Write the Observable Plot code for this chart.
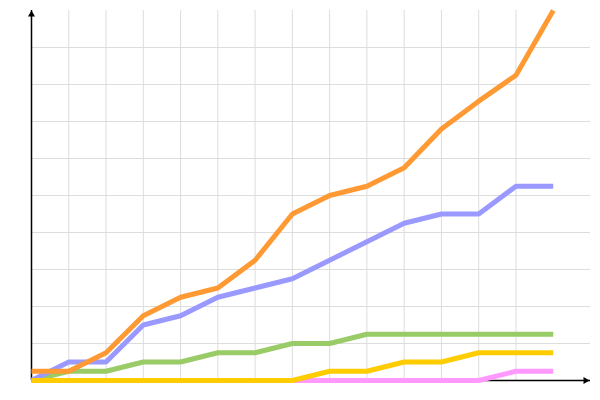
<!DOCTYPE html>
<html>
<head>
<meta charset="utf-8">
<script src="https://cdn.jsdelivr.net/npm/d3@7"></script>
<script src="https://cdn.jsdelivr.net/npm/@observablehq/plot@0.6"></script>
<style>
  html, body { margin: 0; padding: 0; background: #fff; }
  #chart svg { display: block; }
</style>
</head>
<body>
<div id="chart"></div>
<script>
const steps = [0, 1, 2, 3, 4, 5, 6, 7, 8, 9, 10, 11, 12, 13, 14];
const orangeValues = [0.25, 0.25, 0.75, 1.75, 2.25, 2.5, 3.25, 4.5, 5, 5.25, 5.75, 6.8, 7.55, 8.25, 10];
const blueValues   = [0, 0.5, 0.5, 1.5, 1.75, 2.25, 2.5, 2.75, 3.25, 3.75, 4.25, 4.5, 4.5, 5.25, 5.25];
const greenValues  = [0, 0.25, 0.25, 0.5, 0.5, 0.75, 0.75, 1, 1, 1.25, 1.25, 1.25, 1.25, 1.25, 1.25];
const yellowValues = [0, 0, 0, 0, 0, 0, 0, 0, 0.25, 0.25, 0.5, 0.5, 0.75, 0.75, 0.75];
const pinkValues   = [0, 0, 0, 0, 0, 0, 0, 0, 0, 0, 0, 0, 0, 0.25, 0.25];
const xGridTicks = [1, 2, 3, 4, 5, 6, 7, 8, 9, 10, 11, 12, 13];
const yGridTicks = [1, 2, 3, 4, 5, 6, 7, 8, 9];

const seriesOrder = [
  {values: pinkValues, color: "#ff99ff"},
  {values: greenValues, color: "#99cc66"},
  {values: blueValues, color: "#9999ff"},
  {values: orangeValues, color: "#ff9933"},
  {values: yellowValues, color: "#ffcc00"}
];

const lineMarks = seriesOrder.map(s =>
  Plot.line(steps.map((x, i) => ({x, y: s.values[i]})), {
    x: "x", y: "y", stroke: s.color, strokeWidth: 5,
    strokeLinecap: "butt", strokeLinejoin: "miter"
  })
);

const chart = Plot.plot({
  width: 600,
  height: 400,
  marginLeft: 31,
  marginRight: 10,
  marginTop: 10,
  marginBottom: 20,
  x: {domain: [0, 15], axis: null},
  y: {domain: [0, 10], axis: null},
  marks: [
    Plot.ruleX(xGridTicks, {stroke: "#dddddd", strokeWidth: 1, strokeOpacity: 1}),
    Plot.ruleY(yGridTicks, {stroke: "#dddddd", strokeWidth: 1, strokeOpacity: 1}),
    Plot.ruleX([0], {stroke: "#000", strokeWidth: 1.5}),
    Plot.ruleY([0], {stroke: "#000", strokeWidth: 1.5}),
    Plot.dot([{x: 0, y: 10}], {x: "x", y: "y", symbol: "triangle", r: 2.6, fill: "#000", stroke: null, dy: 4}),
    Plot.dot([{x: 15, y: 0}], {x: "x", y: "y", symbol: "triangle", r: 2.6, fill: "#000", stroke: null, rotate: 90, dx: -5}),
    ...lineMarks
  ]
});
document.getElementById("chart").appendChild(chart);
</script>
</body>
</html>
